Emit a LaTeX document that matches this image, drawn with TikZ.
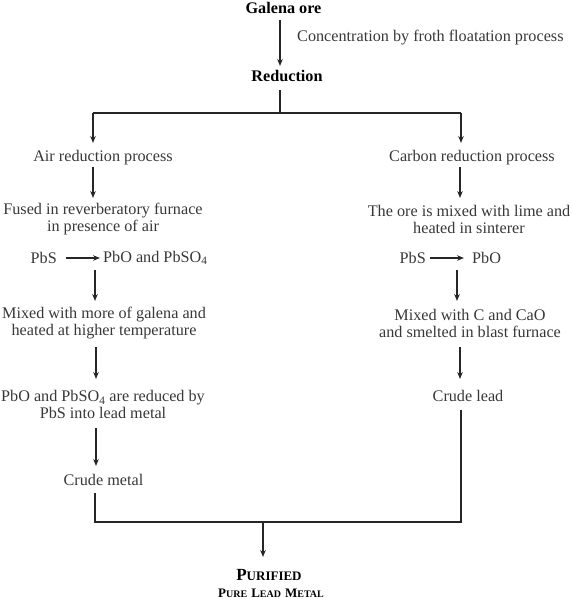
\documentclass[tikz,border=0pt]{standalone}
\usepackage{fontspec}
\setmainfont{Liberation Serif}
\usetikzlibrary{arrows.meta}
\begin{document}
\begin{tikzpicture}[x=1pt,y=-1pt,
  txt/.style={font=\fontsize{16.2}{17}\selectfont, text=black!78, align=center, inner sep=0pt},
  hd/.style={font=\fontsize{16.2}{17}\selectfont\bfseries, text=black, align=center, inner sep=0pt},
  ln/.style={line width=1.1pt, black!85},
  arr/.style={ln, -{Stealth[length=7pt,width=5.5pt]}}]
\useasboundingbox (0,0) rectangle (571,599);
% titles
\node[hd] (galena) at (283.5,8) {Galena ore};
\node[txt, anchor=west] (conc) at (297,38) {Concentration by froth floatation process};
\node[hd] (red) at (287,76) {Reduction};
% left column
\node[txt] (air) at (103,158) {Air reduction process};
\node[txt] (fused) at (103,219.5) {Fused in reverberatory furnace\\in presence of air};
\node[txt, anchor=east] (pbs1) at (57,258) {PbS};
\node[txt, anchor=west] (pbo1) at (103,258) {PbO and PbSO\textsubscript{4}};
\node[txt] (mixl) at (104,323.5) {Mixed with more of galena and\\heated at higher temperature};
\node[txt] (redl) at (103,404.5) {PbO and PbSO\textsubscript{4} are reduced by\\PbS into lead metal};
\node[txt] (crudem) at (103.5,480) {Crude metal};
% right column
\node[txt] (carb) at (472,158) {Carbon reduction process};
\node[txt] (ore) at (469,219.5) {The ore is mixed with lime and\\heated in sinterer};
\node[txt, anchor=east] (pbs2) at (426,258) {PbS};
\node[txt, anchor=west] (pbo2) at (472,258) {PbO};
\node[txt] (mixr) at (470,323.5) {Mixed with C and CaO\\and smelted in blast furnace};
\node[txt] (crudel) at (468,396) {Crude lead};
% bottom
\node[hd] (pur) at (269,575) {{\fontsize{17}{17}\selectfont P}{\fontsize{13}{13}\selectfont URIFIED}};
\node[hd] (plm) at (271,593) {{\fontsize{13}{13}\selectfont P}{\fontsize{10}{10}\selectfont URE} {\fontsize{13}{13}\selectfont L}{\fontsize{10}{10}\selectfont EAD} {\fontsize{13}{13}\selectfont M}{\fontsize{10}{10}\selectfont ETAL}};
% coordinates
\coordinate (g1) at (280,20); \coordinate (g2) at (280,66);
\coordinate (r1) at (280,90); \coordinate (jt) at (280,113);
\coordinate (jl) at (93,113); \coordinate (jr) at (461,113);
\coordinate (al) at (93,143); \coordinate (ar) at (461,143);
\coordinate (a2t) at (93,167); \coordinate (a2b) at (93,198);
\coordinate (c2t) at (460,167); \coordinate (c2b) at (460,198);
\coordinate (p1a) at (66,258); \coordinate (p1b) at (100,258);
\coordinate (p2a) at (430,258); \coordinate (p2b) at (464,258);
\coordinate (l3t) at (95,270); \coordinate (l3b) at (95,301);
\coordinate (r3t) at (457,270); \coordinate (r3b) at (457,301);
\coordinate (l4t) at (96,347); \coordinate (l4b) at (96,379);
\coordinate (r4t) at (460,347); \coordinate (r4b) at (460,379);
\coordinate (l5t) at (96,428); \coordinate (l5b) at (96,466);
\coordinate (l6t) at (95,493); \coordinate (bl) at (95,522);
\coordinate (r6t) at (461,410); \coordinate (br) at (461,522);
\coordinate (bm) at (263,522); \coordinate (pa) at (263,557);
% connectors
\draw[arr] (g1) -- (g2);
\draw[ln] (r1) -- (jt);
\draw[ln] (jl) -- (jr);
\draw[arr] (jl) -- (al);
\draw[arr] (jr) -- (ar);
\draw[arr] (a2t) -- (a2b);
\draw[arr] (c2t) -- (c2b);
\draw[arr] (p1a) -- (p1b);
\draw[arr] (p2a) -- (p2b);
\draw[arr] (l3t) -- (l3b);
\draw[arr] (r3t) -- (r3b);
\draw[arr] (l4t) -- (l4b);
\draw[arr] (r4t) -- (r4b);
\draw[arr] (l5t) -- (l5b);
\draw[ln] (l6t) -- (bl) -- (br) -- (r6t);
\draw[arr] (bm) -- (pa);
\end{tikzpicture}
\end{document}
